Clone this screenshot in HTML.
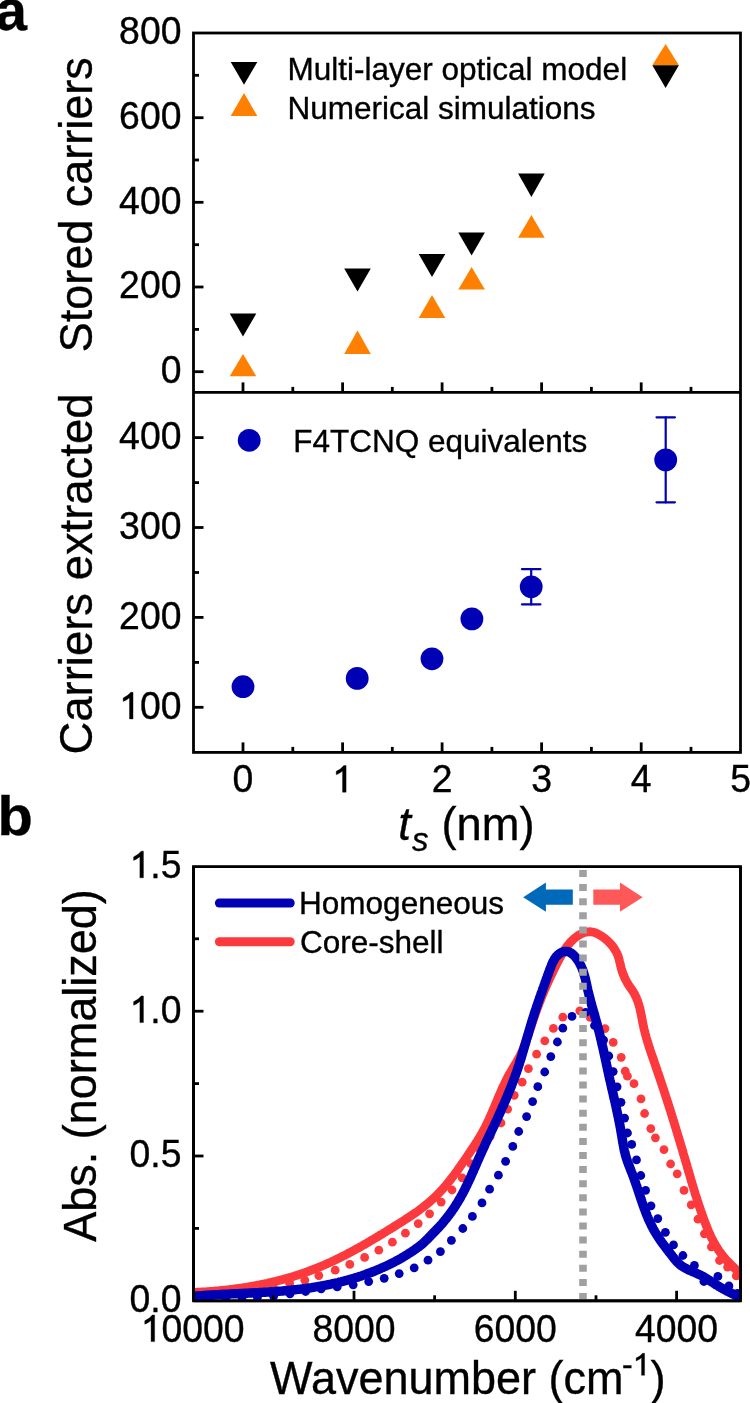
<!DOCTYPE html><html><head><meta charset="utf-8"><style>html,body{margin:0;padding:0;background:#fff;}svg{display:block;will-change:transform}text{font-family:"Liberation Sans", sans-serif;stroke:#000;stroke-width:0.35px;}</style></head><body>
<svg width="750" height="1403" viewBox="0 0 750 1403">
<rect width="750" height="1403" fill="#fff"/>
<g stroke="#000" stroke-width="2.8" fill="none">
<rect x="193.5" y="33.0" width="547.0" height="719.4"/>
<line x1="193.5" y1="392.4" x2="740.5" y2="392.4"/>
<line x1="193.5" y1="371.7" x2="203.5" y2="371.7"/>
<line x1="193.5" y1="329.4" x2="199.0" y2="329.4"/>
<line x1="193.5" y1="287.0" x2="203.5" y2="287.0"/>
<line x1="193.5" y1="244.7" x2="199.0" y2="244.7"/>
<line x1="193.5" y1="202.3" x2="203.5" y2="202.3"/>
<line x1="193.5" y1="160.0" x2="199.0" y2="160.0"/>
<line x1="193.5" y1="117.7" x2="203.5" y2="117.7"/>
<line x1="193.5" y1="75.3" x2="199.0" y2="75.3"/>
<line x1="193.5" y1="707.3" x2="203.5" y2="707.3"/>
<line x1="193.5" y1="662.4" x2="199.0" y2="662.4"/>
<line x1="193.5" y1="617.4" x2="203.5" y2="617.4"/>
<line x1="193.5" y1="572.5" x2="199.0" y2="572.5"/>
<line x1="193.5" y1="527.5" x2="203.5" y2="527.5"/>
<line x1="193.5" y1="482.6" x2="199.0" y2="482.6"/>
<line x1="193.5" y1="437.6" x2="203.5" y2="437.6"/>
<line x1="243.0" y1="392.4" x2="243.0" y2="382.4"/>
<line x1="243.0" y1="752.4" x2="243.0" y2="742.4"/>
<line x1="292.8" y1="392.4" x2="292.8" y2="386.9"/>
<line x1="292.8" y1="752.4" x2="292.8" y2="746.9"/>
<line x1="342.6" y1="392.4" x2="342.6" y2="382.4"/>
<line x1="342.6" y1="752.4" x2="342.6" y2="742.4"/>
<line x1="392.3" y1="392.4" x2="392.3" y2="386.9"/>
<line x1="392.3" y1="752.4" x2="392.3" y2="746.9"/>
<line x1="442.1" y1="392.4" x2="442.1" y2="382.4"/>
<line x1="442.1" y1="752.4" x2="442.1" y2="742.4"/>
<line x1="491.9" y1="392.4" x2="491.9" y2="386.9"/>
<line x1="491.9" y1="752.4" x2="491.9" y2="746.9"/>
<line x1="541.6" y1="392.4" x2="541.6" y2="382.4"/>
<line x1="541.6" y1="752.4" x2="541.6" y2="742.4"/>
<line x1="591.4" y1="392.4" x2="591.4" y2="386.9"/>
<line x1="591.4" y1="752.4" x2="591.4" y2="746.9"/>
<line x1="641.2" y1="392.4" x2="641.2" y2="382.4"/>
<line x1="641.2" y1="752.4" x2="641.2" y2="742.4"/>
<line x1="691.0" y1="392.4" x2="691.0" y2="386.9"/>
<line x1="691.0" y1="752.4" x2="691.0" y2="746.9"/>
</g>
<g font-size="37.4" fill="#000" text-anchor="end">
<g transform="translate(0,383.10) scale(1,1.035) translate(0,-383.10)"><text x="160.70" y="383.10" font-size="37.4" text-anchor="start" >0</text></g>
<g transform="translate(0,298.42) scale(1,1.035) translate(0,-298.42)"><text x="119.10" y="298.42" font-size="37.4" text-anchor="start" >200</text></g>
<g transform="translate(0,213.75) scale(1,1.035) translate(0,-213.75)"><text x="119.10" y="213.75" font-size="37.4" text-anchor="start" >400</text></g>
<g transform="translate(0,129.07) scale(1,1.035) translate(0,-129.07)"><text x="119.10" y="129.07" font-size="37.4" text-anchor="start" >600</text></g>
<g transform="translate(0,44.40) scale(1,1.035) translate(0,-44.40)"><text x="119.10" y="44.40" font-size="37.4" text-anchor="start" >800</text></g>
<g transform="translate(0,718.90) scale(1,1.035) translate(0,-718.90)"><path d="M763,0 L568,0 L568,1120 Q420,990 223,922 L223,1105 Q500,1230 640,1409 L763,1409 Z" transform="translate(119.10,718.90) scale(0.01826,-0.01826)" stroke="#000" stroke-width="19.17" /><text x="139.90" y="718.90" font-size="37.4" text-anchor="start" >00</text></g>
<g transform="translate(0,629.00) scale(1,1.035) translate(0,-629.00)"><text x="119.10" y="629.00" font-size="37.4" text-anchor="start" >200</text></g>
<g transform="translate(0,539.10) scale(1,1.035) translate(0,-539.10)"><text x="119.10" y="539.10" font-size="37.4" text-anchor="start" >300</text></g>
<g transform="translate(0,449.20) scale(1,1.035) translate(0,-449.20)"><text x="119.10" y="449.20" font-size="37.4" text-anchor="start" >400</text></g>
</g>
<g font-size="37.4" fill="#000" text-anchor="middle">
<g transform="translate(0,792.20) scale(1,1.035) translate(0,-792.20)"><text x="232.60" y="792.20" font-size="37.4" text-anchor="start" >0</text></g>
<g transform="translate(0,792.20) scale(1,1.035) translate(0,-792.20)"><path d="M763,0 L568,0 L568,1120 Q420,990 223,922 L223,1105 Q500,1230 640,1409 L763,1409 Z" transform="translate(332.15,792.20) scale(0.01826,-0.01826)" stroke="#000" stroke-width="19.17" /></g>
<g transform="translate(0,792.20) scale(1,1.035) translate(0,-792.20)"><text x="431.70" y="792.20" font-size="37.4" text-anchor="start" >2</text></g>
<g transform="translate(0,792.20) scale(1,1.035) translate(0,-792.20)"><text x="531.25" y="792.20" font-size="37.4" text-anchor="start" >3</text></g>
<g transform="translate(0,792.20) scale(1,1.035) translate(0,-792.20)"><text x="630.80" y="792.20" font-size="37.4" text-anchor="start" >4</text></g>
<g transform="translate(0,792.20) scale(1,1.035) translate(0,-792.20)"><text x="730.35" y="792.20" font-size="37.4" text-anchor="start" >5</text></g>
</g>
<text transform="translate(92.0,204.8) rotate(-90)" font-size="45.5" text-anchor="middle" textLength="295" lengthAdjust="spacingAndGlyphs">Stored carriers</text>
<text transform="translate(92.0,574) rotate(-90)" font-size="45.5" text-anchor="middle" textLength="361" lengthAdjust="spacingAndGlyphs">Carriers extracted</text>
<text x="398.3" y="839.5" font-size="45.5" font-style="italic">t</text>
<text x="412" y="851.3" font-size="33" font-style="italic">s</text>
<text x="441.5" y="839.5" font-size="45.5" textLength="93" lengthAdjust="spacingAndGlyphs">(nm)</text>
<text x="-4.7" y="29.8" font-size="57" font-weight="bold">a</text>
<text x="-2.6" y="835.3" font-size="55.5" font-weight="bold" textLength="35.3" lengthAdjust="spacingAndGlyphs">b</text>
<polygon points="229.7,313.4 256.3,313.4 243.0,336.4" fill="#000"/>
<polygon points="344.2,268.6 370.8,268.6 357.5,291.6" fill="#000"/>
<polygon points="418.7,254.0 445.3,254.0 432.0,277.0" fill="#000"/>
<polygon points="458.3,232.6 484.9,232.6 471.6,255.6" fill="#000"/>
<polygon points="518.1,173.6 544.7,173.6 531.4,197.0" fill="#000"/>
<polygon points="230.7,62.0 257.3,62.0 244.0,84.7" fill="#000"/>
<polygon points="229.7,376.3 256.3,376.3 243.0,354.0" fill="#ff8000"/>
<polygon points="344.2,353.9 370.8,353.9 357.5,330.6" fill="#ff8000"/>
<polygon points="418.7,318.0 445.3,318.0 432.0,295.0" fill="#ff8000"/>
<polygon points="458.3,289.6 484.9,289.6 471.6,267.0" fill="#ff8000"/>
<polygon points="518.1,237.8 544.7,237.8 531.4,215.0" fill="#ff8000"/>
<polygon points="230.7,116.0 257.3,116.0 244.0,93.0" fill="#ff8000"/>
<polygon points="652.3,65.3 678.9,65.3 665.6,44.0" fill="#ff8000"/>
<polygon points="652.3,65.3 678.9,65.3 665.6,88.0" fill="#000"/>
<text x="287.5" y="80.2" font-size="31.5">Multi-layer optical model</text>
<text x="287.5" y="118.8" font-size="31.5">Numerical simulations</text>
<g stroke="#0000b4" stroke-width="2.2" fill="none" stroke-linecap="round">
<line x1="531.2" y1="569.2" x2="531.2" y2="604.4"/>
<line x1="522.0" y1="569.2" x2="540.4000000000001" y2="569.2"/>
<line x1="522.0" y1="604.4" x2="540.4000000000001" y2="604.4"/>
<line x1="665.7" y1="417.3" x2="665.7" y2="502.3"/>
<line x1="656.5" y1="417.3" x2="674.9000000000001" y2="417.3"/>
<line x1="656.5" y1="502.3" x2="674.9000000000001" y2="502.3"/>
</g>
<circle cx="243" cy="686.7" r="11.4" fill="#0000b4"/>
<circle cx="357.2" cy="678.4" r="11.4" fill="#0000b4"/>
<circle cx="432" cy="658.8" r="11.4" fill="#0000b4"/>
<circle cx="471.9" cy="618.9" r="11.4" fill="#0000b4"/>
<circle cx="531.2" cy="586.8" r="11.4" fill="#0000b4"/>
<circle cx="665.7" cy="459.9" r="11.4" fill="#0000b4"/>
<circle cx="249.2" cy="440.3" r="11.4" fill="#0000b4"/>
<text x="293.2" y="451.7" font-size="31.5">F4TCNQ equivalents</text>
<g stroke="#000" stroke-width="2.8" fill="none">
<rect x="193.5" y="866.6" width="547.0" height="434.19999999999993"/>
<line x1="193.5" y1="1228.4" x2="199.0" y2="1228.4"/>
<line x1="193.5" y1="1156.0" x2="203.5" y2="1156.0"/>
<line x1="193.5" y1="1083.6" x2="199.0" y2="1083.6"/>
<line x1="193.5" y1="1011.2" x2="203.5" y2="1011.2"/>
<line x1="193.5" y1="938.8" x2="199.0" y2="938.8"/>
</g>
<g font-size="37.4" fill="#000" text-anchor="end">
<g transform="translate(0,1312.20) scale(1,1.035) translate(0,-1312.20)"><text x="129.51" y="1312.20" font-size="37.4" text-anchor="start" >0.0</text></g>
<g transform="translate(0,1167.40) scale(1,1.035) translate(0,-1167.40)"><text x="129.51" y="1167.40" font-size="37.4" text-anchor="start" >0.5</text></g>
<g transform="translate(0,1022.60) scale(1,1.035) translate(0,-1022.60)"><path d="M763,0 L568,0 L568,1120 Q420,990 223,922 L223,1105 Q500,1230 640,1409 L763,1409 Z" transform="translate(129.51,1022.60) scale(0.01826,-0.01826)" stroke="#000" stroke-width="19.17" /><text x="150.31" y="1022.60" font-size="37.4" text-anchor="start" >.0</text></g>
<g transform="translate(0,877.80) scale(1,1.035) translate(0,-877.80)"><path d="M763,0 L568,0 L568,1120 Q420,990 223,922 L223,1105 Q500,1230 640,1409 L763,1409 Z" transform="translate(129.51,877.80) scale(0.01826,-0.01826)" stroke="#000" stroke-width="19.17" /><text x="150.31" y="877.80" font-size="37.4" text-anchor="start" >.5</text></g>
</g>
<g font-size="37.4" fill="#000" text-anchor="middle">
<g transform="translate(0,1341.60) scale(1,1.035) translate(0,-1341.60)"><path d="M763,0 L568,0 L568,1120 Q420,990 223,922 L223,1105 Q500,1230 640,1409 L763,1409 Z" transform="translate(140.70,1341.60) scale(0.01826,-0.01826)" stroke="#000" stroke-width="19.17" /><text x="161.50" y="1341.60" font-size="37.4" text-anchor="start" >0000</text></g>
<g transform="translate(0,1341.60) scale(1,1.035) translate(0,-1341.60)"><text x="312.40" y="1341.60" font-size="37.4" text-anchor="start" >8000</text></g>
<g transform="translate(0,1341.60) scale(1,1.035) translate(0,-1341.60)"><text x="473.70" y="1341.60" font-size="37.4" text-anchor="start" >6000</text></g>
<g transform="translate(0,1341.60) scale(1,1.035) translate(0,-1341.60)"><text x="635.00" y="1341.60" font-size="37.4" text-anchor="start" >4000</text></g>
</g>
<text transform="translate(96.4,1065.5) rotate(-90)" font-size="45.5" text-anchor="middle" textLength="352.6" lengthAdjust="spacingAndGlyphs">Abs. (normalized)</text>
<text x="270.1" y="1393.7" font-size="45.5" textLength="353.5" lengthAdjust="spacingAndGlyphs">Wavenumber (cm</text>
<g transform="translate(0,1375.30) scale(1,1.0) translate(0,-1375.30)"><text x="622.00" y="1375.30" font-size="32" text-anchor="start" >-</text><path d="M763,0 L568,0 L568,1120 Q420,990 223,922 L223,1105 Q500,1230 640,1409 L763,1409 Z" transform="translate(632.66,1375.30) scale(0.01562,-0.01562)" stroke="#000" stroke-width="22.40" /></g>
<text x="650.62" y="1393.7" font-size="45.5">)</text>
<defs><clipPath id="cb"><rect x="193.5" y="866.6" width="547.0" height="434.19999999999993"/></clipPath></defs>
<g clip-path="url(#cb)" fill="none" stroke-linecap="round" stroke-linejoin="round">
<path d="M192.0,1292.5 L193.4,1292.4 L194.8,1292.3 L196.1,1292.3 L197.5,1292.2 L198.9,1292.2 L200.3,1292.1 L201.7,1292.0 L203.1,1291.9 L204.5,1291.8 L205.8,1291.8 L207.2,1291.7 L208.6,1291.6 L210.0,1291.5 L211.4,1291.4 L212.8,1291.3 L214.2,1291.1 L215.5,1291.0 L216.9,1290.9 L218.3,1290.8 L219.7,1290.6 L221.1,1290.5 L222.5,1290.4 L223.8,1290.2 L225.2,1290.1 L226.6,1289.9 L228.0,1289.8 L229.4,1289.6 L230.7,1289.4 L232.1,1289.3 L233.5,1289.1 L234.9,1288.9 L236.3,1288.7 L237.6,1288.5 L239.0,1288.4 L240.4,1288.2 L241.8,1288.0 L243.1,1287.7 L244.5,1287.5 L245.9,1287.3 L247.2,1287.1 L248.6,1286.9 L250.0,1286.6 L251.4,1286.4 L252.7,1286.2 L254.1,1285.9 L255.4,1285.7 L256.8,1285.4 L258.2,1285.1 L259.5,1284.9 L260.9,1284.6 L262.3,1284.3 L263.6,1284.0 L265.0,1283.7 L266.3,1283.5 L267.7,1283.2 L269.0,1282.8 L270.4,1282.5 L271.7,1282.2 L273.1,1281.9 L274.4,1281.6 L275.8,1281.3 L277.1,1280.9 L278.4,1280.6 L279.8,1280.2 L281.1,1279.9 L282.5,1279.5 L283.8,1279.2 L285.1,1278.8 L286.5,1278.4 L287.8,1278.0 L289.1,1277.6 L290.4,1277.3 L291.8,1276.9 L293.1,1276.5 L294.4,1276.0 L295.7,1275.6 L297.1,1275.2 L298.4,1274.8 L299.7,1274.4 L301.0,1273.9 L302.3,1273.5 L303.6,1273.0 L304.9,1272.6 L306.2,1272.1 L307.5,1271.6 L308.8,1271.2 L310.1,1270.7 L311.4,1270.2 L312.7,1269.7 L314.0,1269.2 L315.3,1268.7 L316.6,1268.2 L317.8,1267.7 L319.1,1267.2 L320.4,1266.6 L321.7,1266.1 L323.0,1265.5 L324.2,1265.0 L325.5,1264.4 L326.8,1263.9 L328.0,1263.3 L329.3,1262.7 L330.5,1262.2 L331.8,1261.6 L333.1,1261.0 L334.3,1260.4 L335.6,1259.8 L336.8,1259.2 L338.1,1258.6 L339.3,1258.0 L340.5,1257.4 L341.8,1256.7 L343.0,1256.1 L344.3,1255.5 L345.5,1254.9 L346.7,1254.2 L348.0,1253.6 L349.2,1252.9 L350.4,1252.3 L351.6,1251.6 L352.9,1250.9 L354.1,1250.3 L355.3,1249.6 L356.5,1248.9 L357.7,1248.3 L359.0,1247.6 L360.2,1246.9 L361.4,1246.2 L362.6,1245.5 L363.8,1244.8 L365.0,1244.2 L366.2,1243.5 L367.4,1242.8 L368.6,1242.1 L369.8,1241.3 L371.0,1240.6 L372.2,1239.9 L373.4,1239.2 L374.6,1238.5 L375.8,1237.8 L377.0,1237.1 L378.2,1236.4 L379.4,1235.6 L380.6,1234.9 L381.8,1234.2 L383.0,1233.5 L384.2,1232.7 L385.4,1232.0 L386.6,1231.3 L387.7,1230.5 L388.9,1229.8 L390.1,1229.1 L391.3,1228.4 L392.5,1227.6 L393.7,1226.9 L394.8,1226.1 L396.0,1225.4 L397.2,1224.7 L398.4,1223.9 L399.5,1223.2 L400.7,1222.5 L401.9,1221.7 L403.1,1221.0 L404.2,1220.2 L405.4,1219.5 L406.6,1218.7 L407.7,1218.0 L408.9,1217.2 L410.0,1216.5 L411.2,1215.7 L412.3,1214.9 L413.5,1214.1 L414.6,1213.3 L415.7,1212.6 L416.9,1211.8 L418.0,1211.0 L419.1,1210.2 L420.2,1209.3 L421.3,1208.5 L422.4,1207.7 L423.5,1206.8 L424.6,1206.0 L425.6,1205.1 L426.7,1204.3 L427.8,1203.4 L428.8,1202.5 L429.9,1201.6 L430.9,1200.7 L431.9,1199.8 L432.9,1198.9 L434.0,1198.0 L435.0,1197.0 L435.9,1196.1 L436.9,1195.1 L437.9,1194.1 L438.9,1193.1 L439.8,1192.1 L440.8,1191.1 L441.7,1190.1 L442.6,1189.1 L443.6,1188.0 L444.5,1187.0 L445.4,1185.9 L446.3,1184.9 L447.2,1183.8 L448.1,1182.7 L448.9,1181.6 L449.8,1180.5 L450.7,1179.4 L451.5,1178.3 L452.4,1177.2 L453.2,1176.1 L454.1,1175.0 L454.9,1173.9 L455.7,1172.7 L456.6,1171.6 L457.4,1170.5 L458.2,1169.3 L459.0,1168.2 L459.8,1167.0 L460.6,1165.9 L461.4,1164.7 L462.2,1163.6 L463.0,1162.4 L463.8,1161.3 L464.6,1160.1 L465.4,1159.0 L466.2,1157.8 L467.0,1156.6 L467.7,1155.5 L468.5,1154.3 L469.3,1153.2 L470.1,1152.0 L470.8,1150.9 L471.6,1149.7 L472.4,1148.6 L473.1,1147.4 L473.9,1146.3 L474.6,1145.1 L475.4,1144.0 L476.1,1142.8 L476.9,1141.6 L477.6,1140.5 L478.3,1139.3 L479.0,1138.1 L479.7,1137.0 L480.4,1135.8 L481.1,1134.6 L481.8,1133.4 L482.5,1132.2 L483.1,1131.0 L483.8,1129.8 L484.4,1128.6 L485.1,1127.4 L485.7,1126.2 L486.3,1124.9 L486.9,1123.7 L487.5,1122.4 L488.1,1121.2 L488.7,1119.9 L489.3,1118.7 L489.8,1117.4 L490.4,1116.1 L491.0,1114.9 L491.5,1113.6 L492.1,1112.3 L492.6,1111.0 L493.2,1109.8 L493.7,1108.5 L494.3,1107.2 L494.8,1105.9 L495.3,1104.6 L495.9,1103.3 L496.4,1102.1 L497.0,1100.8 L497.5,1099.5 L498.0,1098.2 L498.6,1096.9 L499.1,1095.6 L499.7,1094.3 L500.2,1093.1 L500.8,1091.8 L501.4,1090.5 L501.9,1089.2 L502.5,1088.0 L503.1,1086.7 L503.7,1085.4 L504.3,1084.2 L504.9,1082.9 L505.5,1081.7 L506.1,1080.4 L506.7,1079.2 L507.3,1078.0 L508.0,1076.7 L508.6,1075.5 L509.3,1074.3 L510.0,1073.1 L510.7,1071.9 L511.4,1070.7 L512.1,1069.5 L512.8,1068.3 L513.5,1067.1 L514.2,1066.0 L514.9,1064.8 L515.7,1063.6 L516.4,1062.4 L517.1,1061.2 L517.7,1060.0 L518.4,1058.8 L519.1,1057.6 L519.7,1056.4 L520.3,1055.2 L520.9,1054.0 L521.5,1052.7 L522.0,1051.5 L522.6,1050.2 L523.1,1048.9 L523.6,1047.7 L524.1,1046.4 L524.6,1045.1 L525.1,1043.8 L525.6,1042.5 L526.0,1041.2 L526.5,1039.9 L526.9,1038.6 L527.4,1037.3 L527.9,1036.0 L528.3,1034.6 L528.8,1033.3 L529.2,1032.0 L529.7,1030.7 L530.1,1029.3 L530.6,1028.0 L531.0,1026.7 L531.4,1025.3 L531.9,1024.0 L532.3,1022.7 L532.8,1021.4 L533.2,1020.0 L533.7,1018.7 L534.1,1017.4 L534.6,1016.1 L535.0,1014.7 L535.5,1013.4 L536.0,1012.1 L536.4,1010.8 L536.9,1009.5 L537.4,1008.2 L537.8,1006.9 L538.3,1005.6 L538.8,1004.3 L539.3,1003.0 L539.8,1001.7 L540.3,1000.5 L540.8,999.2 L541.3,997.9 L541.8,996.6 L542.3,995.4 L542.8,994.1 L543.4,992.8 L543.9,991.6 L544.4,990.3 L545.0,989.1 L545.5,987.8 L546.0,986.5 L546.6,985.3 L547.1,984.0 L547.7,982.8 L548.3,981.5 L548.8,980.3 L549.4,979.0 L550.0,977.8 L550.6,976.5 L551.2,975.3 L551.8,974.0 L552.4,972.8 L553.0,971.5 L553.6,970.3 L554.2,969.0 L554.8,967.7 L555.5,966.5 L556.1,965.2 L556.7,964.0 L557.4,962.7 L558.0,961.4 L558.7,960.2 L559.4,958.9 L560.0,957.7 L560.7,956.4 L561.4,955.2 L562.1,953.9 L562.9,952.7 L563.6,951.5 L564.4,950.3 L565.1,949.2 L565.9,948.0 L566.7,946.9 L567.6,945.7 L568.4,944.6 L569.3,943.6 L570.2,942.5 L571.1,941.5 L572.1,940.6 L573.1,939.6 L574.1,938.7 L575.1,937.8 L576.2,937.0 L577.3,936.2 L578.4,935.4 L579.6,934.7 L580.8,934.1 L582.0,933.5 L583.3,933.0 L584.6,932.5 L585.8,932.2 L587.1,931.9 L588.4,931.8 L589.7,931.7 L591.0,931.8 L592.4,932.0 L593.7,932.3 L594.9,932.7 L596.2,933.2 L597.5,933.8 L598.8,934.5 L600.0,935.2 L601.2,935.9 L602.4,936.7 L603.6,937.6 L604.8,938.5 L605.9,939.4 L607.0,940.3 L608.1,941.3 L609.1,942.3 L610.1,943.4 L611.1,944.4 L612.0,945.5 L612.9,946.7 L613.7,947.8 L614.5,949.0 L615.2,950.2 L615.9,951.4 L616.6,952.6 L617.2,953.9 L617.7,955.1 L618.2,956.4 L618.6,957.7 L619.0,959.1 L619.3,960.4 L619.6,961.7 L620.0,963.0 L620.3,964.4 L620.6,965.7 L620.9,967.0 L621.2,968.3 L621.6,969.6 L622.0,970.9 L622.4,972.2 L622.9,973.5 L623.4,974.8 L623.9,976.0 L624.4,977.3 L625.0,978.5 L625.6,979.7 L626.2,980.9 L626.9,982.1 L627.6,983.3 L628.3,984.5 L629.0,985.6 L629.8,986.8 L630.6,987.9 L631.4,989.1 L632.2,990.2 L633.0,991.4 L633.7,992.6 L634.4,993.8 L635.0,995.0 L635.6,996.2 L636.2,997.4 L636.7,998.7 L637.2,999.9 L637.7,1001.2 L638.1,1002.5 L638.6,1003.8 L638.9,1005.1 L639.3,1006.5 L639.7,1007.8 L640.0,1009.1 L640.3,1010.5 L640.6,1011.9 L640.9,1013.2 L641.2,1014.6 L641.4,1015.9 L641.7,1017.3 L642.0,1018.7 L642.2,1020.1 L642.5,1021.4 L642.7,1022.8 L643.0,1024.2 L643.3,1025.5 L643.6,1026.9 L643.9,1028.3 L644.2,1029.6 L644.6,1031.0 L644.9,1032.3 L645.2,1033.6 L645.6,1035.0 L646.0,1036.3 L646.3,1037.7 L646.7,1039.0 L647.1,1040.3 L647.5,1041.6 L647.9,1043.0 L648.3,1044.3 L648.7,1045.6 L649.1,1046.9 L649.6,1048.2 L650.0,1049.6 L650.4,1050.9 L650.9,1052.2 L651.3,1053.5 L651.8,1054.8 L652.2,1056.1 L652.7,1057.4 L653.1,1058.7 L653.6,1060.0 L654.0,1061.3 L654.5,1062.6 L654.9,1063.9 L655.4,1065.3 L655.8,1066.6 L656.3,1067.9 L656.7,1069.2 L657.2,1070.5 L657.6,1071.8 L658.1,1073.1 L658.5,1074.4 L659.0,1075.7 L659.4,1077.0 L659.9,1078.4 L660.3,1079.7 L660.7,1081.0 L661.2,1082.3 L661.6,1083.6 L662.1,1084.9 L662.5,1086.2 L662.9,1087.6 L663.4,1088.9 L663.8,1090.2 L664.2,1091.5 L664.7,1092.8 L665.1,1094.1 L665.5,1095.5 L665.9,1096.8 L666.4,1098.1 L666.8,1099.4 L667.2,1100.7 L667.6,1102.1 L668.1,1103.4 L668.5,1104.7 L668.9,1106.0 L669.3,1107.3 L669.7,1108.7 L670.2,1110.0 L670.6,1111.3 L671.0,1112.6 L671.4,1114.0 L671.8,1115.3 L672.2,1116.6 L672.6,1117.9 L673.0,1119.3 L673.5,1120.6 L673.9,1121.9 L674.3,1123.2 L674.7,1124.6 L675.1,1125.9 L675.5,1127.2 L675.9,1128.5 L676.3,1129.9 L676.7,1131.2 L677.1,1132.5 L677.5,1133.9 L677.9,1135.2 L678.3,1136.5 L678.7,1137.8 L679.1,1139.2 L679.5,1140.5 L679.9,1141.8 L680.3,1143.2 L680.7,1144.5 L681.1,1145.8 L681.5,1147.1 L681.9,1148.5 L682.3,1149.8 L682.7,1151.1 L683.1,1152.5 L683.4,1153.8 L683.8,1155.1 L684.2,1156.5 L684.6,1157.8 L685.0,1159.1 L685.4,1160.4 L685.8,1161.8 L686.2,1163.1 L686.6,1164.4 L687.0,1165.8 L687.3,1167.1 L687.7,1168.4 L688.1,1169.8 L688.5,1171.1 L688.9,1172.4 L689.3,1173.7 L689.7,1175.1 L690.1,1176.4 L690.4,1177.7 L690.8,1179.1 L691.2,1180.4 L691.6,1181.7 L692.0,1183.1 L692.4,1184.4 L692.8,1185.7 L693.2,1187.0 L693.6,1188.4 L694.0,1189.7 L694.4,1191.0 L694.8,1192.3 L695.2,1193.7 L695.6,1195.0 L696.1,1196.3 L696.5,1197.6 L696.9,1198.9 L697.3,1200.3 L697.7,1201.6 L698.2,1202.9 L698.6,1204.2 L699.0,1205.5 L699.5,1206.9 L699.9,1208.2 L700.4,1209.5 L700.8,1210.8 L701.3,1212.1 L701.7,1213.4 L702.2,1214.7 L702.7,1216.0 L703.1,1217.3 L703.6,1218.7 L704.1,1220.0 L704.6,1221.3 L705.1,1222.6 L705.6,1223.9 L706.1,1225.2 L706.6,1226.4 L707.1,1227.7 L707.6,1229.0 L708.2,1230.3 L708.7,1231.6 L709.3,1232.8 L709.9,1234.1 L710.4,1235.4 L711.0,1236.6 L711.6,1237.9 L712.2,1239.1 L712.9,1240.3 L713.5,1241.5 L714.2,1242.8 L714.8,1244.0 L715.5,1245.2 L716.2,1246.3 L717.0,1247.5 L717.7,1248.7 L718.4,1249.8 L719.2,1251.0 L720.0,1252.1 L720.8,1253.2 L721.6,1254.3 L722.5,1255.4 L723.3,1256.5 L724.2,1257.5 L725.1,1258.6 L726.0,1259.6 L727.0,1260.7 L727.9,1261.7 L728.9,1262.7 L729.9,1263.7 L730.9,1264.7 L731.9,1265.7 L732.9,1266.6 L733.9,1267.6 L734.9,1268.6 L735.9,1269.5 L736.9,1270.5 L737.9,1271.4 L739.0,1272.4 L740.0,1273.3 L741.0,1274.2 L742.0,1275.2 L743.0,1276.1 L744.0,1277.1 L745.0,1278.0" stroke="#fc3a3d" stroke-width="8.8"/>
<g fill="#fc3a3d" stroke="none"><circle cx="209" cy="1293.5" r="4.4"/><circle cx="225" cy="1292" r="4.4"/><circle cx="241" cy="1290.5" r="4.4"/><circle cx="257" cy="1288.5" r="4.4"/><circle cx="273" cy="1285.8" r="4.4"/><circle cx="289.6" cy="1283.4" r="4.4"/><circle cx="304.8" cy="1280.2" r="4.4"/><circle cx="318.8" cy="1275.6" r="4.4"/><circle cx="335.2" cy="1270.2" r="4.4"/><circle cx="349.8" cy="1264.4" r="4.4"/><circle cx="364.6" cy="1257.4" r="4.4"/><circle cx="378.8" cy="1250.2" r="4.4"/><circle cx="392.4" cy="1242.2" r="4.4"/><circle cx="405.4" cy="1233.2" r="4.4"/><circle cx="418.2" cy="1223.6" r="4.4"/><circle cx="429.6" cy="1213.8" r="4.4"/><circle cx="441.2" cy="1202.1" r="4.4"/><circle cx="452" cy="1190" r="4.4"/><circle cx="462.2" cy="1177.8" r="4.4"/><circle cx="470.8" cy="1163.6" r="4.4"/><circle cx="480.3" cy="1149.9" r="4.4"/><circle cx="490.1" cy="1136.5" r="4.4"/><circle cx="501" cy="1123" r="4.4"/><circle cx="507.6" cy="1109.2" r="4.4"/><circle cx="514.2" cy="1095.4" r="4.4"/><circle cx="522.2" cy="1082.2" r="4.4"/><circle cx="528.4" cy="1068.6" r="4.4"/><circle cx="536.6" cy="1054.2" r="4.4"/><circle cx="544.8" cy="1040.8" r="4.4"/><circle cx="553.4" cy="1028.4" r="4.4"/><circle cx="562.8" cy="1017.2" r="4.4"/><circle cx="579.8" cy="1010.8" r="4.4"/><circle cx="590.2" cy="1017.4" r="4.4"/><circle cx="605" cy="1028.6" r="4.4"/><circle cx="613.2" cy="1042.4" r="4.4"/><circle cx="621.2" cy="1057.3" r="4.4"/><circle cx="625.2" cy="1071.2" r="4.4"/><circle cx="627.4" cy="1076.2" r="4.4"/><circle cx="634" cy="1083.7" r="4.4"/><circle cx="641" cy="1098.9" r="4.4"/><circle cx="644.6" cy="1113.5" r="4.4"/><circle cx="650.8" cy="1128.6" r="4.4"/><circle cx="655.4" cy="1137.8" r="4.4"/><circle cx="664" cy="1149.6" r="4.4"/><circle cx="670.6" cy="1164" r="4.4"/><circle cx="677.2" cy="1173.8" r="4.4"/><circle cx="684" cy="1190.4" r="4.4"/><circle cx="691.2" cy="1204.8" r="4.4"/><circle cx="698" cy="1219.2" r="4.4"/><circle cx="704.4" cy="1233.8" r="4.4"/><circle cx="711.4" cy="1246.9" r="4.4"/><circle cx="719.5" cy="1260.5" r="4.4"/><circle cx="727.6" cy="1267.1" r="4.4"/><circle cx="736.3" cy="1275.9" r="4.4"/></g>
<g fill="#0000b4" stroke="none"><circle cx="194" cy="1299.8" r="4.4"/><circle cx="209.8" cy="1299.5" r="4.4"/><circle cx="225.7" cy="1298.6" r="4.4"/><circle cx="242" cy="1298.1" r="4.4"/><circle cx="257.4" cy="1297.2" r="4.4"/><circle cx="273.6" cy="1296.3" r="4.4"/><circle cx="290" cy="1293.8" r="4.4"/><circle cx="305.6" cy="1291.5" r="4.4"/><circle cx="321.2" cy="1288.8" r="4.4"/><circle cx="337.2" cy="1286.9" r="4.4"/><circle cx="353.2" cy="1284.8" r="4.4"/><circle cx="368.7" cy="1281.6" r="4.4"/><circle cx="384.2" cy="1278.3" r="4.4"/><circle cx="399.2" cy="1273.6" r="4.4"/><circle cx="414.2" cy="1267.8" r="4.4"/><circle cx="428" cy="1260.2" r="4.4"/><circle cx="440.4" cy="1251.6" r="4.4"/><circle cx="451.4" cy="1240.3" r="4.4"/><circle cx="462.8" cy="1228.5" r="4.4"/><circle cx="472.4" cy="1216.4" r="4.4"/><circle cx="482" cy="1202.9" r="4.4"/><circle cx="489.6" cy="1189.2" r="4.4"/><circle cx="498.4" cy="1175.2" r="4.4"/><circle cx="505.6" cy="1161.3" r="4.4"/><circle cx="512.8" cy="1146.4" r="4.4"/><circle cx="518.7" cy="1131.5" r="4.4"/><circle cx="526.6" cy="1116.6" r="4.4"/><circle cx="532.6" cy="1101.6" r="4.4"/><circle cx="537.8" cy="1086.7" r="4.4"/><circle cx="544.7" cy="1072" r="4.4"/><circle cx="550.8" cy="1056.6" r="4.4"/><circle cx="557.4" cy="1042" r="4.4"/><circle cx="562.8" cy="1028.2" r="4.4"/><circle cx="572" cy="1016.4" r="4.4"/><circle cx="585.8" cy="1012.5" r="4.4"/><circle cx="594.5" cy="1025.5" r="4.4"/><circle cx="603.6" cy="1040.1" r="4.4"/><circle cx="608.8" cy="1056" r="4.4"/><circle cx="613.2" cy="1071.6" r="4.4"/><circle cx="617.1" cy="1086.8" r="4.4"/><circle cx="621" cy="1102.3" r="4.4"/><circle cx="624.6" cy="1118.1" r="4.4"/><circle cx="627.5" cy="1133" r="4.4"/><circle cx="631.7" cy="1144.4" r="4.4"/><circle cx="636.5" cy="1159.9" r="4.4"/><circle cx="640.8" cy="1175.5" r="4.4"/><circle cx="645.6" cy="1190.4" r="4.4"/><circle cx="651" cy="1205.8" r="4.4"/><circle cx="657.8" cy="1218.6" r="4.4"/><circle cx="665.4" cy="1232.3" r="4.4"/><circle cx="673.5" cy="1244.9" r="4.4"/><circle cx="682.9" cy="1255.5" r="4.4"/><circle cx="694.4" cy="1265.4" r="4.4"/><circle cx="703.9" cy="1281.5" r="4.4"/><circle cx="717.9" cy="1276.4" r="4.4"/><circle cx="728.9" cy="1285.9" r="4.4"/><circle cx="737.5" cy="1293.5" r="4.4"/></g>
<path d="M192.0,1296.3 L193.4,1296.2 L194.8,1296.1 L196.2,1296.0 L197.6,1295.9 L199.1,1295.8 L200.5,1295.7 L201.9,1295.6 L203.3,1295.5 L204.7,1295.4 L206.1,1295.3 L207.5,1295.2 L208.9,1295.1 L210.3,1295.0 L211.8,1294.9 L213.2,1294.9 L214.6,1294.8 L216.0,1294.7 L217.4,1294.6 L218.8,1294.6 L220.2,1294.5 L221.6,1294.4 L223.1,1294.3 L224.5,1294.3 L225.9,1294.2 L227.3,1294.1 L228.7,1294.1 L230.1,1294.0 L231.5,1293.9 L233.0,1293.8 L234.4,1293.8 L235.8,1293.7 L237.2,1293.6 L238.6,1293.6 L240.0,1293.5 L241.4,1293.4 L242.8,1293.4 L244.3,1293.3 L245.7,1293.2 L247.1,1293.2 L248.5,1293.1 L249.9,1293.0 L251.3,1293.0 L252.7,1292.9 L254.2,1292.8 L255.6,1292.7 L257.0,1292.7 L258.4,1292.6 L259.8,1292.5 L261.2,1292.4 L262.6,1292.4 L264.0,1292.3 L265.4,1292.2 L266.9,1292.1 L268.3,1292.0 L269.7,1291.9 L271.1,1291.8 L272.5,1291.7 L273.9,1291.6 L275.3,1291.5 L276.7,1291.4 L278.1,1291.3 L279.5,1291.2 L281.0,1291.1 L282.4,1291.0 L283.8,1290.8 L285.2,1290.7 L286.6,1290.6 L288.0,1290.5 L289.4,1290.3 L290.8,1290.2 L292.2,1290.0 L293.6,1289.9 L295.0,1289.7 L296.4,1289.6 L297.8,1289.4 L299.2,1289.3 L300.6,1289.1 L302.0,1288.9 L303.4,1288.7 L304.8,1288.6 L306.2,1288.4 L307.6,1288.2 L309.0,1288.0 L310.4,1287.8 L311.8,1287.6 L313.2,1287.3 L314.6,1287.1 L316.0,1286.9 L317.4,1286.7 L318.8,1286.4 L320.2,1286.2 L321.6,1285.9 L323.0,1285.7 L324.4,1285.4 L325.8,1285.2 L327.2,1284.9 L328.6,1284.6 L330.0,1284.3 L331.3,1284.0 L332.7,1283.7 L334.1,1283.4 L335.5,1283.1 L336.9,1282.8 L338.3,1282.5 L339.6,1282.1 L341.0,1281.8 L342.4,1281.4 L343.8,1281.1 L345.1,1280.7 L346.5,1280.4 L347.9,1280.0 L349.3,1279.6 L350.6,1279.2 L352.0,1278.8 L353.3,1278.4 L354.7,1278.0 L356.0,1277.6 L357.4,1277.2 L358.8,1276.7 L360.1,1276.3 L361.4,1275.9 L362.8,1275.4 L364.1,1274.9 L365.5,1274.5 L366.8,1274.0 L368.1,1273.5 L369.4,1273.0 L370.8,1272.5 L372.1,1272.0 L373.4,1271.5 L374.7,1271.0 L376.0,1270.4 L377.3,1269.9 L378.6,1269.4 L379.9,1268.8 L381.2,1268.2 L382.5,1267.7 L383.8,1267.1 L385.1,1266.5 L386.4,1265.9 L387.6,1265.3 L388.9,1264.7 L390.2,1264.1 L391.4,1263.4 L392.7,1262.8 L394.0,1262.2 L395.2,1261.5 L396.4,1260.8 L397.7,1260.2 L398.9,1259.5 L400.2,1258.8 L401.4,1258.1 L402.6,1257.4 L403.8,1256.7 L405.0,1255.9 L406.2,1255.2 L407.4,1254.5 L408.6,1253.7 L409.8,1252.9 L411.0,1252.2 L412.2,1251.4 L413.3,1250.6 L414.5,1249.8 L415.6,1249.0 L416.8,1248.2 L417.9,1247.3 L419.1,1246.5 L420.2,1245.6 L421.3,1244.8 L422.4,1243.9 L423.4,1242.9 L424.4,1242.0 L425.4,1241.0 L426.4,1240.1 L427.4,1239.1 L428.4,1238.1 L429.3,1237.1 L430.3,1236.1 L431.2,1235.1 L432.2,1234.1 L433.1,1233.1 L434.1,1232.1 L435.1,1231.1 L436.1,1230.1 L437.0,1229.1 L438.0,1228.1 L439.0,1227.1 L439.9,1226.1 L440.8,1225.0 L441.8,1224.0 L442.7,1222.9 L443.6,1221.8 L444.5,1220.7 L445.4,1219.7 L446.3,1218.6 L447.2,1217.4 L448.0,1216.3 L448.9,1215.2 L449.7,1214.1 L450.6,1212.9 L451.4,1211.8 L452.2,1210.6 L453.0,1209.5 L453.8,1208.3 L454.6,1207.1 L455.4,1205.9 L456.1,1204.7 L456.9,1203.5 L457.6,1202.3 L458.3,1201.1 L459.0,1199.9 L459.8,1198.7 L460.5,1197.4 L461.1,1196.2 L461.8,1195.0 L462.5,1193.7 L463.2,1192.5 L463.8,1191.2 L464.5,1190.0 L465.1,1188.7 L465.7,1187.4 L466.3,1186.2 L467.0,1184.9 L467.6,1183.6 L468.2,1182.3 L468.8,1181.0 L469.4,1179.8 L470.0,1178.5 L470.6,1177.2 L471.2,1175.9 L471.7,1174.6 L472.3,1173.3 L472.9,1172.0 L473.5,1170.7 L474.0,1169.4 L474.6,1168.1 L475.2,1166.8 L475.7,1165.5 L476.3,1164.2 L476.9,1162.9 L477.4,1161.6 L478.0,1160.3 L478.6,1159.0 L479.1,1157.7 L479.7,1156.4 L480.3,1155.1 L480.9,1153.9 L481.4,1152.6 L482.0,1151.3 L482.6,1150.0 L483.2,1148.7 L483.8,1147.4 L484.4,1146.2 L484.9,1144.9 L485.5,1143.6 L486.1,1142.3 L486.7,1141.1 L487.3,1139.8 L487.9,1138.5 L488.5,1137.3 L489.1,1136.0 L489.7,1134.7 L490.4,1133.4 L491.0,1132.2 L491.6,1130.9 L492.2,1129.6 L492.8,1128.4 L493.4,1127.1 L494.0,1125.8 L494.6,1124.6 L495.2,1123.3 L495.8,1122.0 L496.4,1120.7 L497.0,1119.4 L497.6,1118.1 L498.2,1116.9 L498.7,1115.6 L499.3,1114.3 L499.9,1113.0 L500.5,1111.7 L501.1,1110.4 L501.6,1109.1 L502.2,1107.8 L502.8,1106.5 L503.4,1105.2 L503.9,1103.9 L504.5,1102.6 L505.1,1101.3 L505.6,1100.0 L506.2,1098.7 L506.7,1097.4 L507.3,1096.1 L507.8,1094.8 L508.3,1093.5 L508.9,1092.2 L509.4,1090.9 L509.9,1089.6 L510.5,1088.3 L511.0,1087.0 L511.5,1085.7 L512.0,1084.4 L512.5,1083.1 L513.0,1081.8 L513.5,1080.5 L514.0,1079.2 L514.5,1077.9 L515.0,1076.5 L515.4,1075.2 L515.9,1073.9 L516.4,1072.6 L516.8,1071.2 L517.3,1069.9 L517.7,1068.6 L518.2,1067.2 L518.6,1065.9 L519.1,1064.5 L519.5,1063.2 L519.9,1061.8 L520.3,1060.5 L520.8,1059.1 L521.2,1057.8 L521.6,1056.4 L522.0,1055.0 L522.4,1053.7 L522.8,1052.3 L523.2,1051.0 L523.6,1049.6 L524.0,1048.2 L524.4,1046.9 L524.8,1045.5 L525.2,1044.1 L525.6,1042.8 L526.0,1041.4 L526.4,1040.0 L526.8,1038.7 L527.2,1037.3 L527.6,1036.0 L528.0,1034.6 L528.4,1033.2 L528.8,1031.9 L529.2,1030.5 L529.6,1029.2 L530.0,1027.8 L530.4,1026.5 L530.8,1025.1 L531.2,1023.8 L531.6,1022.5 L532.0,1021.1 L532.4,1019.8 L532.8,1018.5 L533.3,1017.1 L533.7,1015.8 L534.1,1014.5 L534.5,1013.1 L535.0,1011.8 L535.4,1010.5 L535.9,1009.2 L536.3,1007.8 L536.7,1006.5 L537.2,1005.2 L537.6,1003.9 L538.1,1002.5 L538.5,1001.2 L539.0,999.9 L539.4,998.6 L539.9,997.2 L540.4,995.9 L540.8,994.6 L541.3,993.2 L541.8,991.9 L542.3,990.6 L542.7,989.2 L543.2,987.9 L543.7,986.6 L544.2,985.2 L544.7,983.9 L545.1,982.5 L545.6,981.2 L546.1,979.8 L546.6,978.4 L547.1,977.1 L547.6,975.7 L548.1,974.3 L548.6,973.0 L549.1,971.6 L549.6,970.2 L550.1,968.8 L550.7,967.4 L551.2,966.0 L551.7,964.6 L552.3,963.3 L552.9,962.0 L553.6,960.7 L554.3,959.4 L555.1,958.2 L555.9,957.1 L556.8,956.0 L557.8,955.0 L558.9,954.1 L560.0,953.3 L561.1,952.6 L562.3,952.1 L563.5,951.7 L564.8,951.4 L566.0,951.4 L567.2,951.5 L568.4,951.7 L569.5,952.2 L570.6,952.8 L571.7,953.5 L572.8,954.4 L573.8,955.3 L574.8,956.4 L575.8,957.5 L576.7,958.7 L577.6,959.9 L578.4,961.1 L579.2,962.4 L579.9,963.7 L580.5,965.0 L581.2,966.3 L581.8,967.6 L582.3,969.0 L582.8,970.3 L583.3,971.6 L583.7,973.0 L584.1,974.3 L584.5,975.7 L584.9,977.1 L585.3,978.4 L585.6,979.8 L585.9,981.2 L586.2,982.6 L586.5,983.9 L586.8,985.3 L587.1,986.7 L587.4,988.1 L587.7,989.4 L588.0,990.8 L588.4,992.2 L588.7,993.6 L589.0,994.9 L589.4,996.3 L589.7,997.7 L590.1,999.0 L590.4,1000.4 L590.8,1001.8 L591.2,1003.1 L591.6,1004.5 L591.9,1005.9 L592.3,1007.2 L592.7,1008.6 L593.1,1009.9 L593.5,1011.3 L593.9,1012.7 L594.3,1014.0 L594.7,1015.4 L595.0,1016.7 L595.4,1018.1 L595.8,1019.5 L596.2,1020.8 L596.6,1022.2 L596.9,1023.5 L597.3,1024.9 L597.7,1026.3 L598.0,1027.6 L598.4,1029.0 L598.7,1030.4 L599.1,1031.8 L599.4,1033.1 L599.8,1034.5 L600.1,1035.9 L600.4,1037.3 L600.7,1038.6 L601.1,1040.0 L601.4,1041.4 L601.7,1042.8 L602.0,1044.1 L602.3,1045.5 L602.7,1046.9 L603.0,1048.3 L603.3,1049.7 L603.6,1051.0 L603.9,1052.4 L604.2,1053.8 L604.5,1055.2 L604.8,1056.6 L605.1,1058.0 L605.4,1059.3 L605.7,1060.7 L606.0,1062.1 L606.3,1063.5 L606.6,1064.9 L606.9,1066.3 L607.2,1067.6 L607.5,1069.0 L607.8,1070.4 L608.1,1071.8 L608.4,1073.2 L608.7,1074.5 L609.0,1075.9 L609.3,1077.3 L609.6,1078.7 L609.9,1080.1 L610.3,1081.4 L610.6,1082.8 L610.9,1084.2 L611.2,1085.6 L611.5,1087.0 L611.8,1088.3 L612.1,1089.7 L612.5,1091.1 L612.8,1092.5 L613.1,1093.8 L613.4,1095.2 L613.7,1096.6 L614.0,1098.0 L614.4,1099.3 L614.7,1100.7 L615.0,1102.1 L615.3,1103.5 L615.6,1104.9 L615.9,1106.2 L616.2,1107.6 L616.5,1109.0 L616.8,1110.4 L617.1,1111.8 L617.4,1113.1 L617.7,1114.5 L618.0,1115.9 L618.3,1117.3 L618.6,1118.7 L618.8,1120.1 L619.1,1121.5 L619.4,1122.8 L619.7,1124.2 L619.9,1125.6 L620.2,1127.0 L620.5,1128.4 L620.7,1129.8 L620.9,1131.2 L621.2,1132.6 L621.4,1134.0 L621.7,1135.4 L621.9,1136.8 L622.1,1138.2 L622.3,1139.6 L622.6,1141.0 L622.8,1142.4 L623.1,1143.8 L623.3,1145.2 L623.6,1146.6 L623.9,1148.0 L624.1,1149.4 L624.4,1150.8 L624.8,1152.1 L625.1,1153.5 L625.4,1154.9 L625.8,1156.2 L626.2,1157.6 L626.6,1158.9 L627.1,1160.2 L627.5,1161.6 L628.0,1162.9 L628.5,1164.2 L629.0,1165.5 L629.5,1166.8 L630.0,1168.1 L630.5,1169.5 L631.0,1170.8 L631.5,1172.1 L632.1,1173.4 L632.6,1174.7 L633.1,1176.0 L633.6,1177.4 L634.1,1178.7 L634.5,1180.0 L635.0,1181.4 L635.5,1182.7 L635.9,1184.0 L636.4,1185.4 L636.9,1186.7 L637.3,1188.1 L637.8,1189.4 L638.2,1190.8 L638.7,1192.1 L639.1,1193.5 L639.6,1194.8 L640.0,1196.2 L640.5,1197.5 L640.9,1198.8 L641.4,1200.2 L641.8,1201.5 L642.3,1202.9 L642.8,1204.2 L643.2,1205.5 L643.7,1206.9 L644.2,1208.2 L644.7,1209.5 L645.2,1210.9 L645.7,1212.2 L646.2,1213.5 L646.7,1214.8 L647.2,1216.1 L647.8,1217.4 L648.3,1218.7 L648.9,1220.0 L649.5,1221.3 L650.1,1222.5 L650.7,1223.8 L651.3,1225.1 L651.9,1226.3 L652.6,1227.6 L653.2,1228.8 L653.9,1230.0 L654.6,1231.3 L655.3,1232.5 L656.1,1233.7 L656.8,1234.9 L657.6,1236.1 L658.3,1237.2 L659.1,1238.4 L659.9,1239.6 L660.7,1240.8 L661.5,1241.9 L662.4,1243.1 L663.2,1244.2 L664.1,1245.4 L664.9,1246.5 L665.8,1247.7 L666.6,1248.8 L667.5,1249.9 L668.4,1251.1 L669.2,1252.2 L670.1,1253.3 L671.0,1254.5 L671.9,1255.6 L672.7,1256.7 L673.6,1257.8 L674.5,1258.9 L675.4,1260.0 L676.3,1261.1 L677.3,1262.1 L678.3,1263.1 L679.3,1264.0 L680.3,1264.9 L681.4,1265.8 L682.6,1266.5 L683.7,1267.3 L684.9,1268.0 L686.2,1268.6 L687.4,1269.3 L688.7,1269.9 L690.0,1270.5 L691.2,1271.0 L692.6,1271.6 L693.9,1272.2 L695.2,1272.7 L696.5,1273.3 L697.8,1273.9 L699.0,1274.5 L700.3,1275.1 L701.6,1275.7 L702.8,1276.4 L704.0,1277.1 L705.2,1277.8 L706.4,1278.5 L707.6,1279.3 L708.8,1280.0 L710.0,1280.8 L711.1,1281.5 L712.3,1282.3 L713.5,1283.0 L714.7,1283.8 L715.8,1284.6 L717.0,1285.3 L718.2,1286.0 L719.4,1286.8 L720.6,1287.5 L721.9,1288.2 L723.1,1288.9 L724.3,1289.5 L725.6,1290.2 L726.8,1290.9 L728.1,1291.5 L729.4,1292.2 L730.6,1292.8 L731.9,1293.4 L733.2,1294.0 L734.5,1294.7 L735.7,1295.3 L737.0,1295.9 L738.3,1296.5 L739.6,1297.1 L740.9,1297.6 L742.2,1298.2 L743.4,1298.8 L744.7,1299.4 L746.0,1300.0" stroke="#0000b4" stroke-width="9.4"/>
</g>
<line x1="193.5" y1="1300.8" x2="740.5" y2="1300.8" stroke="#000" stroke-width="2.8"/>
<line x1="193.5" y1="866.6" x2="193.5" y2="1300.8" stroke="#000" stroke-width="2.8"/>
<line x1="740.5" y1="866.6" x2="740.5" y2="1300.8" stroke="#000" stroke-width="2.8"/>
<g stroke="#000" stroke-width="2.8"><line x1="273.4" y1="1300.8" x2="273.4" y2="1295.3"/><line x1="354.0" y1="1300.8" x2="354.0" y2="1290.8"/><line x1="434.6" y1="1300.8" x2="434.6" y2="1295.3"/><line x1="515.3" y1="1300.8" x2="515.3" y2="1290.8"/><line x1="596.0" y1="1300.8" x2="596.0" y2="1295.3"/><line x1="676.6" y1="1300.8" x2="676.6" y2="1290.8"/></g>
<line x1="583" y1="870" x2="583" y2="1299" stroke="#a0a0a0" stroke-width="7.6" stroke-dasharray="7 7.1"/>
<polygon points="523.2,897.3 545.9,882.4 545.9,889.6 572.8,889.6 572.8,904.8 545.9,904.8 545.9,911.7" fill="#0069ba"/>
<polygon points="642.6,897.3 620,882.4 620,889.6 593.3,889.6 593.3,904.8 620,904.8 620,911.7" fill="#ff5858"/>
<line x1="219.4" y1="903" x2="290.2" y2="903" stroke="#0000b4" stroke-width="9" stroke-linecap="round"/>
<line x1="219.4" y1="941.8" x2="290.2" y2="941.8" stroke="#fc3a3d" stroke-width="9" stroke-linecap="round"/>
<text x="299.1" y="914" font-size="31.5">Homogeneous</text>
<text x="300" y="952.5" font-size="31.5">Core-shell</text>
</svg></body></html>
